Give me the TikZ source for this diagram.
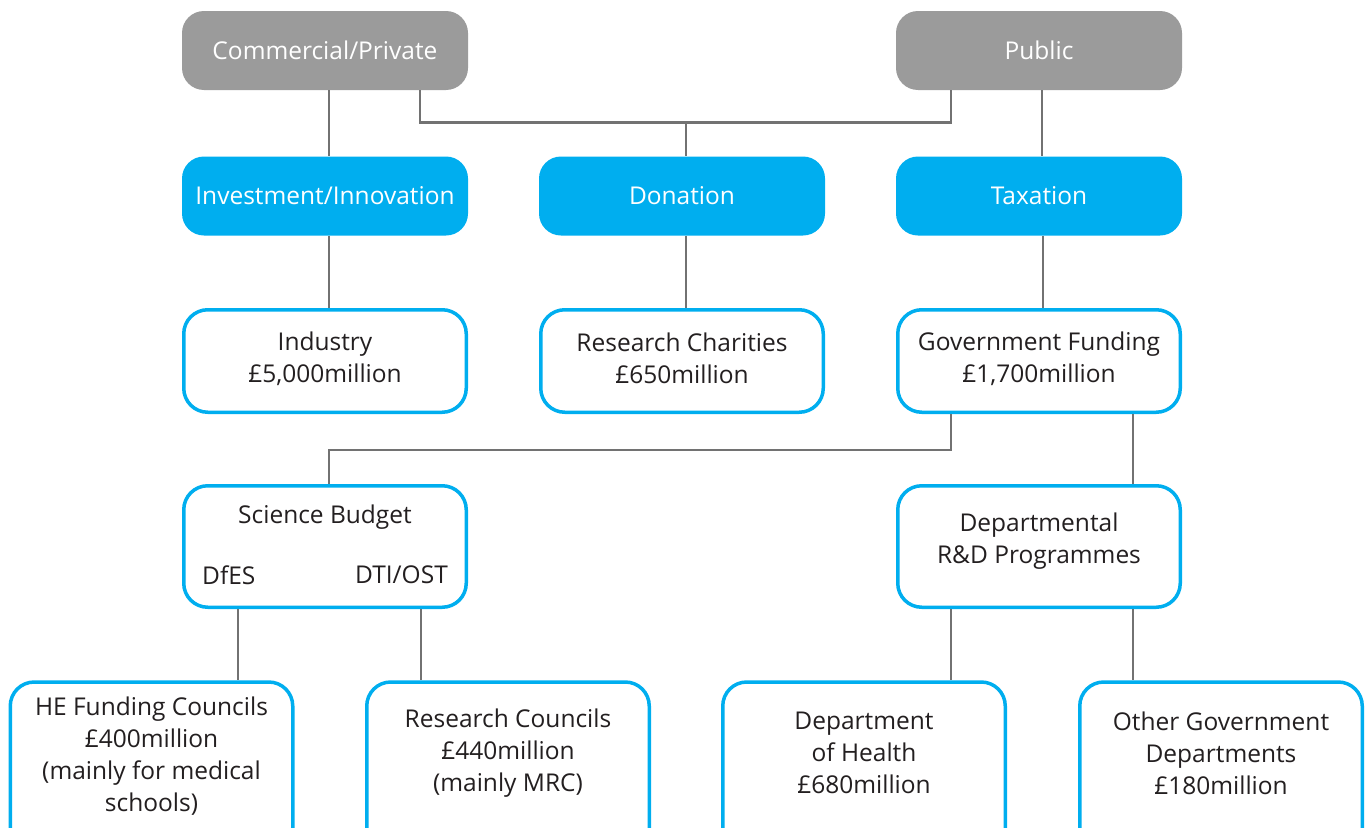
\documentclass[tikz,border=0pt]{standalone}
\usepackage{fontspec}
\setmainfont{Open Sans}
\begin{document}
\begin{tikzpicture}[x=1pt,y=-1pt,
  gbox/.style={rectangle,rounded corners=22pt,fill=boxgray,text=white,minimum width=286pt,minimum height=79pt,inner sep=0pt,font=\fontsize{24.5}{30}\selectfont},
  cbox/.style={rectangle,rounded corners=22pt,fill=cyanbox,text=white,minimum width=286pt,minimum height=79pt,inner sep=0pt,font=\fontsize{24.5}{30}\selectfont},
  wbox/.style={rectangle,rounded corners=24pt,draw=cyanbox,line width=3.5pt,fill=white,text=txt,minimum width=282.5pt,inner sep=0pt,align=center,font=\fontsize{24.5}{32}\selectfont},
  lab/.style={text=txt,inner sep=0pt,font=\fontsize{24.5}{32}\selectfont},
  conn/.style={draw=linegray,line width=2.5pt}]
\definecolor{boxgray}{HTML}{9B9B9B}
\definecolor{cyanbox}{HTML}{00AEEF}
\definecolor{txt}{HTML}{231F20}
\definecolor{linegray}{HTML}{727272}
\useasboundingbox (0,0) rectangle (1370,827);
\clip (0,0) rectangle (1370,827);
% row 1
\node[gbox] (com) at (325,50.5) {Commercial/Private};
\node[gbox] (pub) at (1039,50.5) {Public};
% row 2
\node[cbox] (inv) at (325,196) {Investment/Innovation};
\node[cbox] (don) at (682,196) {Donation};
\node[cbox] (tax) at (1039,196) {Taxation};
% row 3
\node[wbox,minimum height=102.5pt] (ind) at (325,361) {};
\node[lab,align=center] (indt) at (325,359) {Industry\\£5,000million};
\node[wbox,minimum height=102.5pt] (rch) at (682,361) {};
\node[lab,align=center] (rcht) at (682,358) {Research Charities\\£650million};
\node[wbox,minimum height=102.5pt] (gov) at (1039,361) {};
\node[lab,align=center] (govt) at (1039,358.5) {Government Funding\\£1,700million};
% row 4
\node[wbox,minimum height=121.5pt] (sci) at (325,546.5) {};
\node[lab] (sbt) at (325,517) {Science Budget};
\node[lab,anchor=west] (dfes) at (202,575) {DfES};
\node[lab,anchor=east] (dti) at (448,575) {DTI/OST};
\node[wbox,minimum height=121.5pt] (dep) at (1039,546.5) {};
\node[lab,align=center] (dept) at (1039,541) {Departmental\\R\&D Programmes};
% row 5
\node[wbox,minimum height=170pt] (he) at (151.5,767) {};
\node[lab,align=center] (het) at (151.5,756) {HE Funding Councils\\£400million\\(mainly for medical\\schools)};
\node[wbox,minimum height=170pt] (rc) at (508,767) {};
\node[lab,align=center] (rct) at (508,753) {Research Councils\\£440million\\(mainly MRC)};
\node[wbox,minimum height=170pt] (doh) at (864,767) {};
\node[lab,align=center] (doht) at (864,753) {Department\\of Health\\£680million};
\node[wbox,minimum height=170pt] (ogd) at (1221,767) {};
\node[lab,align=center] (ogdt) at (1221,753) {Other Government\\Departments\\£180million};
% connectors
\coordinate (jc) at (686,123);
\coordinate (jg) at (951,450);
\draw[conn] ([xshift=4pt]com.south) -- ([xshift=4pt]inv.north);
\draw[conn] ([xshift=95pt]com.south) -- ++(0,32.5) -| ([xshift=-88pt]pub.south);
\draw[conn] (jc) -- (jc |- don.north);
\draw[conn] ([xshift=3pt]pub.south) -- ([xshift=3pt]tax.north);
\draw[conn] ([xshift=4pt]inv.south) -- ([xshift=4pt]ind.north);
\draw[conn] ([xshift=4pt]don.south) -- ([xshift=4pt]rch.north);
\draw[conn] ([xshift=4pt]tax.south) -- ([xshift=4pt]gov.north);
\draw[conn] (jg |- gov.south) -- (jg) -| ([xshift=4pt]sci.north);
\draw[conn] ([xshift=94pt]gov.south) -- ([xshift=94pt]gov.south |- dep.north);
\draw[conn] ([xshift=-87pt]sci.south) -- ([xshift=-87pt]sci.south |- he.north);
\draw[conn] ([xshift=96pt]sci.south) -- ([xshift=96pt]sci.south |- rc.north);
\draw[conn] ([xshift=-88pt]dep.south) -- ([xshift=-88pt]dep.south |- doh.north);
\draw[conn] ([xshift=94pt]dep.south) -- ([xshift=94pt]dep.south |- ogd.north);
\end{tikzpicture}
\end{document}
